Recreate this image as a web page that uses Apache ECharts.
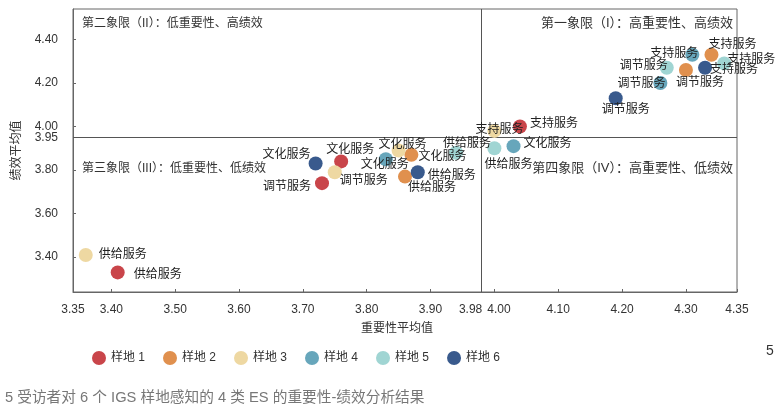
<!DOCTYPE html>
<html>
<head>
<meta charset="utf-8">
<script src="https://cdn.jsdelivr.net/npm/echarts@6/dist/echarts.min.js"></script>
<style>
html,body{margin:0;padding:0;background:#fff;}
#chart{width:775px;height:411px;}
</style>
</head>
<body>
<div id="chart"></div>
<script>
// ---- data ----
const siteNames = ['样地 1', '样地 2', '样地 3', '样地 4', '样地 5', '样地 6'];

const site1Importance = [4.04, 3.76, 3.73, 3.41];
const site1Performance = [4.00, 3.84, 3.74, 3.33];
const site1Service = ['支持服务', '文化服务', '调节服务', '供给服务'];

const site2Importance = [4.34, 4.30, 3.87, 3.86];
const site2Performance = [4.33, 4.26, 3.87, 3.77];
const site2Service = ['支持服务', '调节服务', '文化服务', '供给服务'];

const site3Importance = [4.00, 3.85, 3.75, 3.36];
const site3Performance = [3.98, 3.89, 3.79, 3.41];
const site3Service = ['支持服务', '文化服务', '调节服务', '供给服务'];

const site4Importance = [4.31, 4.26, 3.83, 4.03];
const site4Performance = [4.33, 4.20, 3.85, 3.91];
const site4Service = ['支持服务', '调节服务', '文化服务', '文化服务'];

const site5Importance = [4.36, 4.27, 3.94, 4.00];
const site5Performance = [4.29, 4.27, 3.88, 3.90];
const site5Service = ['支持服务', '调节服务', '供给服务', '供给服务'];

const site6Importance = [4.33, 4.19, 3.72, 3.88];
const site6Performance = [4.27, 4.13, 3.83, 3.79];
const site6Service = ['支持服务', '调节服务', '文化服务', '供给服务'];

const xDivider = 3.98;
const yDivider = 3.95;

const xTickValues = [3.34, 3.40, 3.50, 3.60, 3.70, 3.80, 3.90, 3.98, 4.00, 4.10, 4.20, 4.30, 4.38];
const xTickLabels = ['3.35', '3.40', '3.50', '3.60', '3.70', '3.80', '3.90', '3.98', '4.00', '4.10', '4.20', '4.30', '4.35'];
const yTickValues = [3.40, 3.60, 3.80, 3.95, 4.00, 4.20, 4.40];
const yTickLabels = ['3.40', '3.60', '3.80', '3.95', '4.00', '4.20', '4.40'];

const quadrantTexts = [
  '第一象限（I）：高重要性、高绩效',
  '第二象限（II）：低重要性、高绩效',
  '第三象限（III）：低重要性、低绩效',
  '第四象限（IV）：高重要性、低绩效'
];
const captionText = '5 受访者对 6 个 IGS 样地感知的 4 类 ES 的重要性-绩效分析结果';

// ---- styles (not data) ----
const siteColors = ['#c9454a', '#e0904e', '#eed8a2', '#67a6bb', '#a0d5d3', '#395a8d'];
const labelOffsets = [
  [[34, -3], [9, -12], [-35, 4], [40, 2]],
  [[21, -10], [14, 13], [31, 2], [27, 11]],
  [[5, -1], [4, -6], [29, 8], [37, 0]],
  [[-18, -1], [-19, 1], [-1, 5], [34, -2]],
  [[27, -4], [-23, -2], [11, -9], [14, 16]],
  [[29, 2], [10, 11], [-29, -9], [34, 3]]
];

const FONT = "'Liberation Sans', 'Noto Sans CJK SC', sans-serif";
const importanceSets = [site1Importance, site2Importance, site3Importance, site4Importance, site5Importance, site6Importance];
const performanceSets = [site1Performance, site2Performance, site3Performance, site4Performance, site5Performance, site6Performance];
const serviceSets = [site1Service, site2Service, site3Service, site4Service, site5Service, site6Service];

const series = siteNames.map((name, s) => {
  const data = importanceSets[s].map((x, i) => ({
    value: [x, performanceSets[s][i]],
    name: serviceSets[s][i],
    label: { offset: labelOffsets[s][i] }
  }));
  const ser = {
    name: name,
    type: 'scatter',
    symbol: 'circle',
    symbolSize: 14,
    itemStyle: { color: siteColors[s], opacity: 1 },
    label: {
      show: true,
      position: 'inside',
      formatter: p => p.name,
      color: '#222',
      fontSize: 12,
      fontFamily: FONT
    },
    emphasis: { disabled: true },
    data: data,
    z: 3
  };
  if (s === 0) {
    ser.markLine = {
      silent: true,
      symbol: 'none',
      label: { show: false },
      lineStyle: { color: '#555', type: 'solid', width: 1 },
      data: [{ xAxis: xDivider }, { yAxis: yDivider }],
      z: 1
    };
  }
  return ser;
});

const chart = echarts.init(document.getElementById('chart'), null, { renderer: 'canvas' });
const option = {
  animation: false,
  textStyle: { fontFamily: FONT },
  grid: {
    left: 73, right: 38, top: 9, bottom: 119,
    show: true, borderColor: '#666', borderWidth: 1, backgroundColor: 'transparent'
  },
  xAxis: {
    type: 'value',
    min: 3.34, max: 4.38,
    splitLine: { show: false },
    axisLine: { show: true, lineStyle: { color: '#666' } },
    axisTick: { show: true, inside: true, length: 3, customValues: xTickValues, lineStyle: { color: '#666' } },
    axisLabel: {
      customValues: xTickValues,
      margin: 12,
      color: '#333',
      fontSize: 12,
      fontFamily: FONT,
      formatter: v => {
        const idx = xTickValues.findIndex(t => Math.abs(t - v) < 1e-6);
        const t = idx >= 0 ? xTickLabels[idx] : '';
        if (t === '3.98') return '{l|' + t + '}';
        if (t === '4.00') return '{r|' + t + '}';
        return t;
      },
      rich: {
        l: { padding: [0, 22, 0, 0], fontSize: 12, color: '#333', fontFamily: FONT },
        r: { padding: [0, 0, 0, 9], fontSize: 12, color: '#333', fontFamily: FONT }
      }
    },
    name: '重要性平均值',
    nameLocation: 'middle',
    nameGap: 31,
    nameTextStyle: { color: '#333', fontSize: 12, fontFamily: FONT, padding: [0, 16, 0, 0] }
  },
  yAxis: {
    type: 'value',
    min: 3.24, max: 4.54,
    splitLine: { show: false },
    axisLine: { show: true, lineStyle: { color: '#666' } },
    axisTick: { show: true, inside: true, length: 3, customValues: yTickValues, lineStyle: { color: '#666' } },
    axisLabel: {
      customValues: yTickValues,
      margin: 15,
      color: '#333',
      fontSize: 12,
      fontFamily: FONT,
      formatter: v => {
        const idx = yTickValues.findIndex(t => Math.abs(t - v) < 1e-6);
        return idx >= 0 ? yTickLabels[idx] : '';
      }
    },
    name: '绩效平均值',
    nameLocation: 'middle',
    nameGap: 50,
    nameRotate: 90,
    nameTextStyle: { color: '#333', fontSize: 12, fontFamily: FONT }
  },
  legend: {
    data: siteNames,
    left: 87,
    top: 346,
    icon: 'circle',
    itemWidth: 14,
    itemHeight: 14,
    itemGap: 18,
    textStyle: { color: '#333', fontSize: 12, fontFamily: FONT }
  },
  graphic: [
    { type: 'text', right: 42, top: 17, style: { text: quadrantTexts[0], fill: '#333', font: "13px " + FONT } },
    { type: 'text', left: 82, top: 18, style: { text: quadrantTexts[1], fill: '#333', font: "12px " + FONT } },
    { type: 'text', left: 82, top: 163, style: { text: quadrantTexts[2], fill: '#333', font: "12px " + FONT } },
    { type: 'text', right: 42, top: 162, style: { text: quadrantTexts[3], fill: '#333', font: "13px " + FONT } },
    { type: 'text', left: 5, top: 391, style: { text: captionText, fill: '#777', font: "14.7px " + FONT } },
    { type: 'text', left: 766, top: 344, style: { text: '5', fill: '#333', font: "14px " + FONT } }
  ],
  series: series
};
chart.setOption(option);
</script>
</body>
</html>
